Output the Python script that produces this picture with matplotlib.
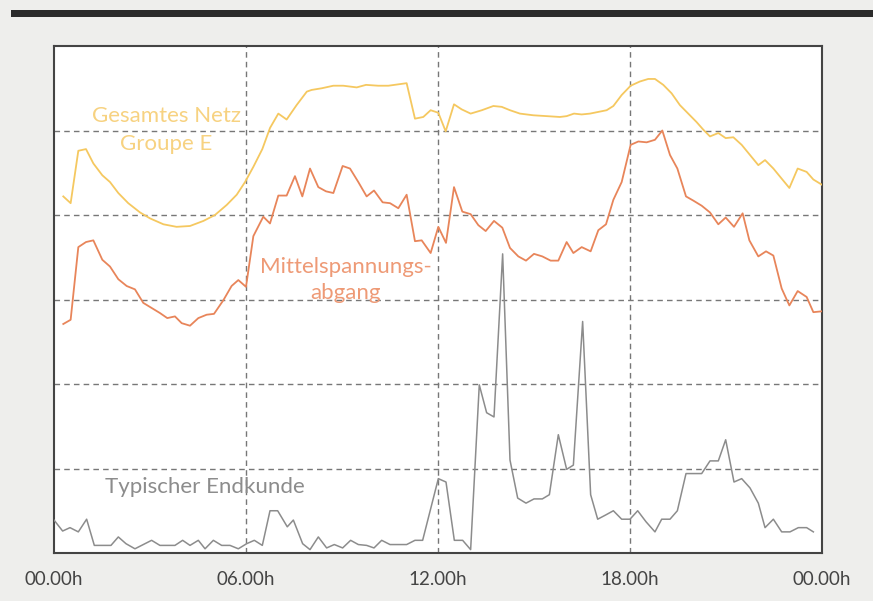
import matplotlib.pyplot as plt
from matplotlib.patches import Rectangle

# Gesamtes Netz Groupe E (hours, relative load)
netz_h = [0.29, 0.52, 0.76, 1.0, 1.23, 1.51, 1.75, 2.01, 2.32, 2.69, 3.0, 3.42, 3.83, 4.25,
          4.67, 5.03, 5.4, 5.71, 5.97, 6.23, 6.51, 6.75, 7.01, 7.27, 7.58, 7.9, 8.05, 8.37,
          8.73, 9.04, 9.46, 9.75, 10.13, 10.45, 11.02, 11.28, 11.54, 11.77, 12.01, 12.24,
          12.5, 12.74, 13.02, 13.37, 13.73, 13.99, 14.25, 14.56, 14.98, 15.4, 15.81, 16.02,
          16.25, 16.49, 16.75, 17.01, 17.27, 17.48, 17.74, 18.02, 18.31, 18.57, 18.78, 19.04,
          19.3, 19.56, 19.82, 20.08, 20.29, 20.5, 20.76, 20.99, 21.23, 21.49, 21.75, 22.01,
          22.22, 22.48, 22.74, 22.98, 23.24, 23.52, 23.73, 23.99]
netz_v = [4.22, 4.14, 4.76, 4.78, 4.61, 4.47, 4.39, 4.26, 4.14, 4.03, 3.96, 3.89, 3.86, 3.87,
          3.93, 4.0, 4.12, 4.24, 4.39, 4.57, 4.78, 5.03, 5.2, 5.13, 5.3, 5.46, 5.48, 5.5,
          5.53, 5.53, 5.51, 5.54, 5.53, 5.53, 5.56, 5.14, 5.16, 5.24, 5.21, 4.99,
          5.31, 5.25, 5.2, 5.24, 5.29, 5.28, 5.24, 5.2, 5.18, 5.17, 5.16, 5.17,
          5.2, 5.19, 5.2, 5.22, 5.24, 5.29, 5.42, 5.53, 5.58, 5.61, 5.61, 5.54,
          5.44, 5.3, 5.2, 5.1, 5.01, 4.93, 4.97, 4.91, 4.92, 4.83, 4.71, 4.59,
          4.65, 4.55, 4.43, 4.32, 4.55, 4.51, 4.42, 4.36]

# Mittelspannungsabgang
msp_h = [0.29, 0.52, 0.76, 1.0, 1.23, 1.51, 1.75, 2.01, 2.27, 2.53, 2.79, 3.05, 3.31, 3.54,
         3.78, 3.99, 4.25, 4.51, 4.77, 5.0, 5.29, 5.55, 5.76, 6.0, 6.23, 6.54, 6.75, 7.01,
         7.27, 7.53, 7.76, 8.0, 8.26, 8.5, 8.73, 9.02, 9.25, 9.51, 9.77, 10.0, 10.27, 10.5,
         10.76, 11.02, 11.28, 11.49, 11.77, 12.01, 12.25, 12.5, 12.76, 13.02, 13.26, 13.49,
         13.75, 14.01, 14.25, 14.51, 14.75, 15.0, 15.26, 15.52, 15.76, 16.02, 16.23, 16.49,
         16.77, 17.01, 17.25, 17.48, 17.74, 18.02, 18.26, 18.52, 18.78, 19.01, 19.25, 19.48,
         19.75, 19.98, 20.24, 20.5, 20.76, 20.99, 21.25, 21.52, 21.73, 22.01, 22.25, 22.48,
         22.74, 22.98, 23.24, 23.52, 23.73, 23.99]
msp_v = [2.71, 2.76, 3.62, 3.68, 3.7, 3.47, 3.39, 3.24, 3.16, 3.12, 2.96, 2.9, 2.84, 2.78,
         2.8, 2.72, 2.69, 2.78, 2.82, 2.83, 2.99, 3.16, 3.23, 3.15, 3.75, 3.98, 3.9, 4.23,
         4.23, 4.46, 4.22, 4.55, 4.33, 4.28, 4.26, 4.58, 4.55, 4.39, 4.22, 4.29, 4.15, 4.14,
         4.08, 4.24, 3.69, 3.7, 3.55, 3.86, 3.67, 4.33, 4.04, 4.01, 3.88, 3.81,
         3.93, 3.85, 3.61, 3.51, 3.46, 3.54, 3.51, 3.46, 3.46, 3.68, 3.55, 3.62,
         3.57, 3.82, 3.89, 4.18, 4.39, 4.83, 4.87, 4.86, 4.89, 5.0, 4.71, 4.55,
         4.22, 4.17, 4.11, 4.03, 3.89, 3.97, 3.86, 4.02, 3.7, 3.51, 3.57, 3.52,
         3.13, 2.93, 3.1, 3.03, 2.85, 2.86]

# Typischer Endkunde
kunde_h = [0.0, 0.27, 0.5, 0.76, 1.02, 1.26, 1.54, 1.78, 2.01, 2.25, 2.53, 2.79, 3.05, 3.31,
           3.78, 4.02, 4.25, 4.51, 4.72, 4.98, 5.24, 5.5, 5.76, 6.02, 6.26, 6.51, 6.75, 6.99,
           7.29, 7.48, 7.77, 8.0, 8.26, 8.52, 8.76, 9.02, 9.27, 9.51, 9.77, 10.0, 10.24, 10.5,
           11.02, 11.28, 11.52, 12.01, 12.25, 12.51, 12.77, 13.02, 13.29, 13.52, 13.75, 14.02,
           14.25, 14.49, 14.75, 15.0, 15.26, 15.48, 15.76, 16.02, 16.23, 16.52, 16.77, 16.99,
           17.24, 17.48, 17.74, 18.0, 18.24, 18.5, 18.78, 18.99, 19.25, 19.48, 19.75, 19.98,
           20.24, 20.5, 20.76, 20.99, 21.25, 21.49, 21.75, 22.01, 22.22, 22.48, 22.74, 23.0,
           23.26, 23.52, 23.73]
kunde_v = [0.39, 0.26, 0.3, 0.25, 0.4, 0.09, 0.09, 0.09, 0.19, 0.11, 0.05, 0.1, 0.15, 0.09,
           0.09, 0.15, 0.09, 0.15, 0.05, 0.15, 0.09, 0.09, 0.05, 0.11, 0.15, 0.09, 0.5, 0.5,
           0.31, 0.39, 0.11, 0.04, 0.19, 0.06, 0.1, 0.06, 0.15, 0.1, 0.09, 0.06, 0.15, 0.1,
           0.1, 0.15, 0.15, 0.88, 0.84, 0.15, 0.15, 0.04, 1.99, 1.66, 1.61, 3.54,
           1.1, 0.65, 0.59, 0.64, 0.64, 0.69, 1.4, 0.99, 1.04, 2.74, 0.69, 0.4,
           0.45, 0.5, 0.4, 0.4, 0.5, 0.37, 0.25, 0.4, 0.4, 0.5, 0.94, 0.94,
           0.94, 1.09, 1.09, 1.34, 0.84, 0.88, 0.77, 0.59, 0.3, 0.4, 0.25, 0.25,
           0.3, 0.3, 0.25]

tick_pos = [0, 6, 12, 18, 24]
tick_labels = ['00.00h', '06.00h', '12.00h', '18.00h', '00.00h']

plt.rcParams['font.family'] = ['Lato', 'DejaVu Sans']

fig = plt.figure(figsize=(8.73, 6.01), dpi=100, facecolor='#eeeeec')
# black band on top of the page
fig.add_artist(Rectangle((11 / 873, 1 - 17 / 601), 1, 7 / 601, transform=fig.transFigure,
                         color='#2b2b2b', lw=0))

ax = fig.add_axes([54 / 873, 48 / 601, 768 / 873, 507 / 601])
ax.set_facecolor('white')
ax.set_xlim(0, 24)
ax.set_ylim(0, 6)

for yv in [1, 2, 3, 4, 5]:
    ax.axhline(yv, color='#777777', lw=1, ls=(0, (4, 3)), zorder=1)
for xv in [6, 12, 18]:
    ax.axvline(xv, color='#777777', lw=1, ls=(0, (4, 3)), zorder=1)

ax.plot(netz_h, netz_v, color='#f5c860', lw=1.3, zorder=3)
ax.plot(msp_h, msp_v, color='#e8855a', lw=1.3, zorder=3)
ax.plot(kunde_h, kunde_v, color='#8c8c8c', lw=1.1, zorder=3)

ax.text(3.5, 5.0, 'Gesamtes Netz\nGroupe E', color='#f7d281', fontsize=16, ha='center',
        va='center', linespacing=1.5, zorder=4)
ax.text(9.12, 3.23, 'Mittelspannungs-\nabgang', color='#ee9a76', fontsize=16, ha='center',
        va='center', linespacing=1.4, zorder=4)
ax.text(4.72, 0.78, 'Typischer Endkunde', color='#8c8c8c', fontsize=16, ha='center',
        va='center', zorder=4)

ax.set_xticks(tick_pos)
ax.set_xticklabels(tick_labels, fontsize=13.5, color='#444444')
ax.set_yticks([])
ax.tick_params(axis='x', length=0, pad=13)
for s in ax.spines.values():
    s.set_color('#444444')
    s.set_linewidth(1.5)

plt.savefig('out.png', dpi=100, facecolor=fig.get_facecolor())
